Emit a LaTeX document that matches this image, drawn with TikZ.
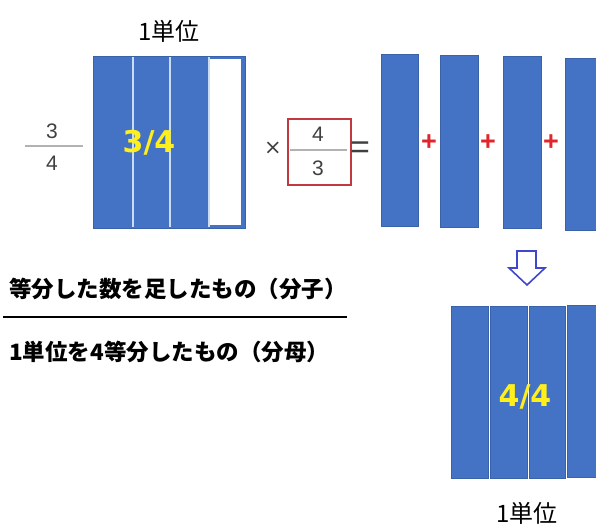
\documentclass[tikz,border=0pt]{standalone}
\usepackage{fontspec}
\setmainfont{Liberation Sans}
\newfontfamily\jp{Noto Sans CJK JP}
\newfontfamily\djv{DejaVu Sans}
\definecolor{barblue}{HTML}{4472C4}
\definecolor{bardark}{HTML}{3A62A8}
\definecolor{divblue}{HTML}{C9DDF2}
\definecolor{fracyellow}{HTML}{FFEF1A}
\definecolor{boxred}{HTML}{C0393F}
\definecolor{plusred}{HTML}{E0262B}
\definecolor{arrowblue}{HTML}{3F48CC}
\definecolor{txtgray}{HTML}{404040}
\begin{document}
\begin{tikzpicture}[x=1pt,y=-1pt]
\useasboundingbox (0,0) rectangle (596,527);
\tikzset{
  bar/.style={rectangle, fill=barblue, draw=bardark, line width=0.6pt, inner sep=0pt, outer sep=0pt, anchor=north west},
  yfrac/.style={text=fracyellow, font=\djv\bfseries\fontsize{30}{32}\selectfont, inner sep=0pt},
  unitlbl/.style={font=\jp\fontsize{24}{28}\selectfont, text=black, inner sep=0pt},
  digit/.style={font=\fontsize{21}{24}\selectfont, text=txtgray, inner sep=0pt},
  plussign/.style={font=\bfseries\fontsize{27}{29}\selectfont, text=plusred, inner sep=0pt},
  jptext/.style={font=\jp\bfseries\fontsize{22.5}{26}\selectfont, text=black, inner sep=0pt, anchor=west},
  divline/.style={divblue, line width=1.3pt},
  fracline/.style={gray!60, line width=1.2pt}
}
% top label
\node[unitlbl] (unit1) at (169,31) {1単位};
% left fraction 3/4
\node[digit] (n3) at (52,131) {3};
\node[digit] (d4) at (52,163) {4};
\draw[fracline] (25,146) -- (83,146);
% unit block (3/4)
\node[bar, minimum width=152pt, minimum height=172pt] (unit) at (93,56) {};
\node[fill=white, inner sep=0pt, outer sep=0pt, anchor=north west, minimum width=32pt, minimum height=166pt] (empty) at (209,59) {};
\draw[divline] (133,57) -- (133,227);
\draw[divline] (170,57) -- (170,227);
\draw[divline] (209,57) -- (209,227);
\node[yfrac] (f34) at (149,143) {3/4};
% times and red box
\node[font=\djv\fontsize{21}{24}\selectfont, text=txtgray, inner sep=0pt] (times) at (273,148) {×};
\node[draw=boxred, line width=2pt, inner sep=0pt, anchor=north west, minimum width=63pt, minimum height=66pt] (box) at (287,118) {};
\node[digit] (b4) at (318,134) {4};
\node[digit] (b3) at (318,168) {3};
\draw[fracline] (290,150) -- (347,150);
\node[font=\fontsize{34}{36}\selectfont, text=txtgray, inner sep=0pt] (eq) at (360,150) {=};
% right bars
\node[bar, minimum width=37pt, minimum height=172pt] (r1) at (381,54) {};
\node[bar, minimum width=38pt, minimum height=172pt] (r2) at (440,55) {};
\node[bar, minimum width=38pt, minimum height=172pt] (r3) at (503,56) {};
\node[bar, minimum width=40pt, minimum height=172pt] (r4) at (565,58) {};
\node[plussign] (p1) at (429,143) {+};
\node[plussign] (p2) at (488,143) {+};
\node[plussign] (p3) at (551,143) {+};
% down arrow
\draw[arrowblue, line width=1.6pt, fill=white, line join=miter]
  (517,251) -- (536,251) -- (536,268) -- (545,268) -- (527,285) -- (509,268) -- (517,268) -- cycle;
% bottom block
\node[bar, minimum width=37pt, minimum height=172pt] (s1) at (451,306) {};
\node[bar, minimum width=37pt, minimum height=172pt] (s2) at (490,306) {};
\node[bar, minimum width=36pt, minimum height=172pt] (s3) at (529,306) {};
\node[bar, minimum width=40pt, minimum height=172pt] (s4) at (567,305) {};
\node[yfrac] (f44) at (525,397) {4/4};
\node[unitlbl] (unit2) at (527,513) {1単位};
% japanese text fraction
\node[jptext] (numer) at (9,289) {等分した数を足したもの（分子）};
\draw[black, line width=2.6pt] (3,317) -- (347,317);
\node[jptext] (denom) at (9,352) {1単位を4等分したもの（分母）};
\end{tikzpicture}
\end{document}
